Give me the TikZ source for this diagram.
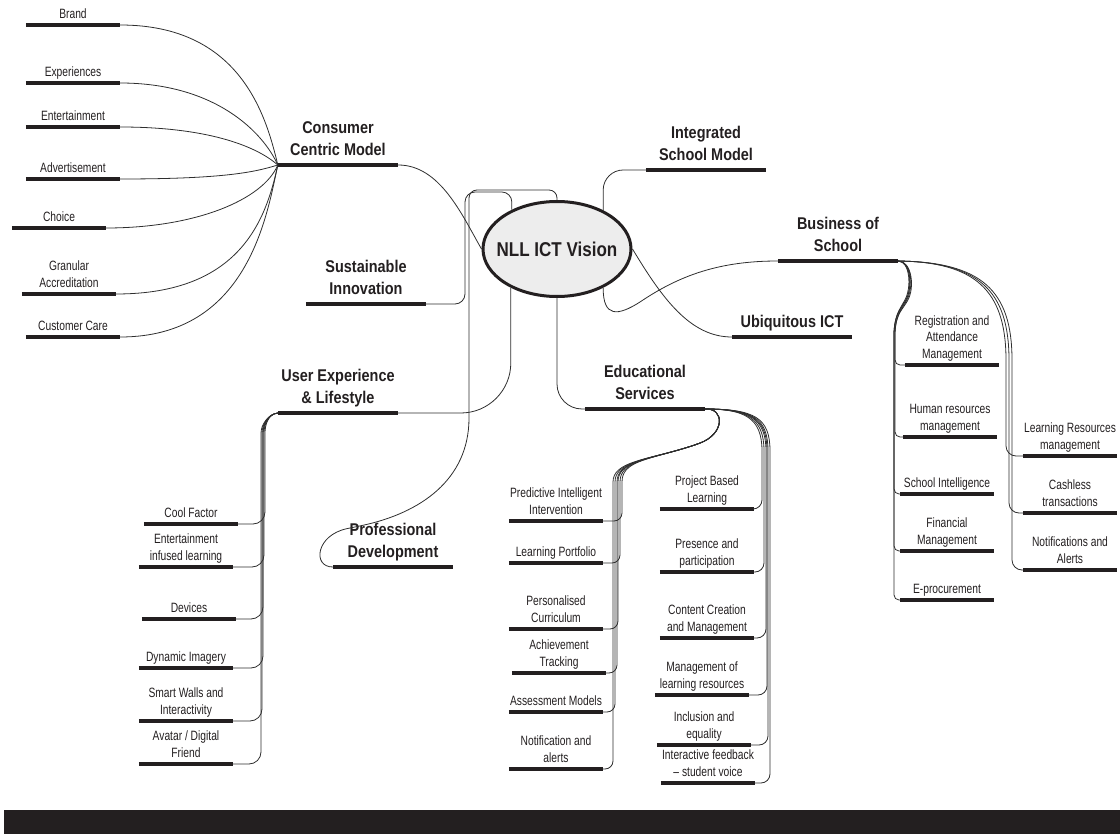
\documentclass[tikz,border=0pt]{standalone}
\usepackage{fontspec}
\setmainfont{Liberation Sans}
\newfontfamily\leaffont{Liberation Sans}[FakeStretch=0.76]
\newfontfamily\topicfont{Liberation Sans}[FakeStretch=0.85]
\usetikzlibrary{shapes.geometric}
\definecolor{ink}{HTML}{231F20}
\definecolor{wire}{HTML}{2E2E2E}
\tikzset{
  bar/.style={draw=ink, line width=3.6pt},
  link/.style={draw=wire, line width=0.8pt},
  underbar/.style={append after command={\pgfextra{\let\barnode\tikzlastnode}
      (\barnode.south west) edge[bar] (\barnode.south east)}},
  leaf/.style={underbar, anchor=south, align=center, text=ink, minimum width=94pt,
      inner xsep=0pt, inner ysep=6.5pt, text depth=0pt,
      font=\leaffont\fontsize{13.5}{16.5}\selectfont},
  topic/.style={underbar, anchor=south, align=center, text=ink, minimum width=120pt,
      inner xsep=0pt, inner ysep=9pt, text depth=0pt,
      font=\topicfont\bfseries\fontsize{17}{22}\selectfont},
}
\begin{document}
\begin{tikzpicture}[x=1pt,y=-1pt]
  \useasboundingbox (0,0) rectangle (1120,834);

  % centre
  \node[ellipse, draw=ink, line width=3pt, fill=black!7, minimum width=148pt,
    minimum height=95pt, inner xsep=-8pt, inner ysep=0pt, text=ink,
    font=\topicfont\bfseries\fontsize{20}{24}\selectfont] (vision) at (557,249) {NLL ICT Vision};

  % main topics
  \node[topic] (ccm) at (338,165) {Consumer\\Centric Model};
  \node[topic] (sust) at (366,304) {Sustainable\\Innovation};
  \node[topic] (isch) at (706,170) {Integrated\\School Model};
  \node[topic] (bos) at (838,261) {Business of\\School};
  \node[topic] (uict) at (792,337) {Ubiquitous ICT};
  \node[topic] (edu) at (645,409) {Educational\\Services};
  \node[topic] (uxl) at (338,413) {User Experience\\\& Lifestyle};
  \node[topic] (prof) at (393,567) {Professional\\Development};

  % consumer centric model
  \node[leaf] (brand) at (73,25) {Brand};
  \node[leaf] (exper) at (73,83) {Experiences};
  \node[leaf] (entert) at (73,127) {Entertainment};
  \node[leaf] (advert) at (73,179) {Advertisement};
  \node[leaf] (choice) at (59,228) {Choice};
  \node[leaf] (granul) at (69,294) {Granular\\Accreditation};
  \node[leaf] (care) at (73,337) {Customer Care};

  % user experience
  \node[leaf] (cool) at (191,524) {Cool Factor};
  \node[leaf] (infused) at (186,567) {Entertainment\\infused learning};
  \node[leaf] (devices) at (189,619) {Devices};
  \node[leaf] (imagery) at (186,668) {Dynamic Imagery};
  \node[leaf] (walls) at (186,721) {Smart Walls and\\Interactivity};
  \node[leaf] (avatar) at (186,764) {Avatar / Digital\\Friend};

  % educational services
  \node[leaf] (pred) at (556,521) {Predictive Intelligent\\Intervention};
  \node[leaf] (portf) at (556,563) {Learning Portfolio};
  \node[leaf] (persc) at (556,629) {Personalised\\Curriculum};
  \node[leaf] (achiev) at (559,673) {Achievement\\Tracking};
  \node[leaf] (assess) at (556,712) {Assessment Models};
  \node[leaf] (notif) at (556,769) {Notification and\\alerts};
  \node[leaf] (projb) at (707,509) {Project Based\\Learning};
  \node[leaf] (presen) at (707,572) {Presence and\\participation};
  \node[leaf] (content) at (707,638) {Content Creation\\and Management};
  \node[leaf] (lrmgmt) at (702,695) {Management of\\learning resources};
  \node[leaf] (inclus) at (704,745) {Inclusion and\\equality};
  \node[leaf] (feedb) at (708,783) {Interactive feedback\\– student voice};

  % business of school
  \node[leaf] (regist) at (952,365) {Registration and\\Attendance\\Management};
  \node[leaf] (humanr) at (950,437) {Human resources\\management};
  \node[leaf] (schint) at (947,494) {School Intelligence};
  \node[leaf] (financ) at (947,551) {Financial\\Management};
  \node[leaf] (eproc) at (947,600) {E-procurement};
  \node[leaf] (lresm) at (1070,456) {Learning Resources\\management};
  \node[leaf] (cashl) at (1070,513) {Cashless\\transactions};
  \node[leaf] (alerts) at (1070,570) {Notifications and\\Alerts};

  % links from the centre
  \draw[link] (ccm.south east) .. controls (440,165) and (462,215) .. (vision.west);
  \draw[link, rounded corners=10pt] (sust.south east) -| (465,192) -| (vision.139);
  \draw[link, rounded corners=8pt] (prof.south west) .. controls (312,567) and (316,535) .. (355,527)
    .. controls (420,513) and (469,480) .. (469,410) |- (557,190) -- (vision.north);
  \draw[link, rounded corners=50pt] (vision.220) |- (uxl.south east);
  \draw[link, rounded corners=25pt] (vision.south) |- (edu.south west);
  \draw[link, rounded corners=20pt] (vision.40) |- (isch.south west);
  \draw[link] (vision.320) .. controls (603,318) and (618,316) .. (640,302)
    .. controls (680,275) and (720,261) .. (bos.south west);
  \draw[link] (vision.east) .. controls (662,298) and (690,337) .. (uict.south west);

  % consumer centric links
  \draw[link] (brand.south east) .. controls (240,25) and (266,115) .. (ccm.south west);
  \draw[link] (exper.south east) .. controls (215,83) and (263,132) .. (ccm.south west);
  \draw[link] (entert.south east) .. controls (205,127) and (255,145) .. (ccm.south west);
  \draw[link] (advert.south east) .. controls (225,179) and (255,172) .. (ccm.south west);
  \draw[link] (choice.south east) .. controls (195,228) and (263,200) .. (ccm.south west);
  \draw[link] (granul.south east) .. controls (240,294) and (266,220) .. (ccm.south west);
  \draw[link] (care.south east) .. controls (248,337) and (267,215) .. (ccm.south west);

  % user experience links
  \draw[link, rounded corners=12pt] (uxl.south west) .. controls (268,414) and (265,425) .. (265,445) |- (cool.south east);
  \draw[link, rounded corners=12pt] (uxl.south west) .. controls (268,414) and (264,425) .. (264,445) |- (infused.south east);
  \draw[link, rounded corners=12pt] (uxl.south west) .. controls (268,414) and (263,425) .. (263,445) |- (devices.south east);
  \draw[link, rounded corners=12pt] (uxl.south west) .. controls (268,414) and (263,425) .. (263,445) |- (imagery.south east);
  \draw[link, rounded corners=12pt] (uxl.south west) .. controls (268,414) and (262,425) .. (262,445) |- (walls.south east);
  \draw[link, rounded corners=12pt] (uxl.south west) .. controls (268,414) and (261,425) .. (261,445) |- (avatar.south east);

  % educational services links
  \draw[link, rounded corners=8pt] (edu.south east) .. controls (725,408) and (725,434) .. (692,446)
    .. controls (645,460) and (622,462) .. (622,490) |- (pred.south east);
  \draw[link, rounded corners=8pt] (edu.south east) .. controls (725,408) and (725,434) .. (692,446)
    .. controls (645,460) and (620,462) .. (620,490) |- (portf.south east);
  \draw[link, rounded corners=8pt] (edu.south east) .. controls (725,408) and (725,434) .. (692,446)
    .. controls (645,460) and (618,462) .. (618,490) |- (persc.south east);
  \draw[link, rounded corners=8pt] (edu.south east) .. controls (725,408) and (725,434) .. (692,446)
    .. controls (645,460) and (617,462) .. (617,490) |- (achiev.south east);
  \draw[link, rounded corners=8pt] (edu.south east) .. controls (725,408) and (725,434) .. (692,446)
    .. controls (645,460) and (615,462) .. (615,490) |- (assess.south east);
  \draw[link, rounded corners=8pt] (edu.south east) .. controls (725,408) and (725,434) .. (692,446)
    .. controls (645,460) and (613,462) .. (613,490) |- (notif.south east);
  \draw[link, rounded corners=9pt] (edu.south east) .. controls (745,409) and (762,418) .. (762,460) |- (projb.south east);
  \draw[link, rounded corners=9pt] (edu.south east) .. controls (747,409) and (764,418) .. (764,460) |- (presen.south east);
  \draw[link, rounded corners=9pt] (edu.south east) .. controls (749,409) and (766,418) .. (766,460) |- (content.south east);
  \draw[link, rounded corners=9pt] (edu.south east) .. controls (751,409) and (767,418) .. (767,460) |- (lrmgmt.south east);
  \draw[link, rounded corners=9pt] (edu.south east) .. controls (753,409) and (768,418) .. (768,460) |- (inclus.south east);
  \draw[link, rounded corners=9pt] (edu.south east) .. controls (755,409) and (770,418) .. (770,460) |- (feedb.south east);

  % business of school links
  \draw[link, rounded corners=5pt] (bos.south east) .. controls (912,261) and (915,288) .. (905,305)
    .. controls (897,316) and (895,325) .. (895,340) |- (regist.south west);
  \draw[link, rounded corners=5pt] (bos.south east) .. controls (912,261) and (914,288) .. (904,305)
    .. controls (897,316) and (895,325) .. (895,340) |- (humanr.south west);
  \draw[link, rounded corners=5pt] (bos.south east) .. controls (911,261) and (913,288) .. (903,305)
    .. controls (896,316) and (894,325) .. (894,340) |- (schint.south west);
  \draw[link, rounded corners=5pt] (bos.south east) .. controls (911,261) and (913,288) .. (903,305)
    .. controls (896,316) and (894,325) .. (894,340) |- (financ.south west);
  \draw[link, rounded corners=5pt] (bos.south east) .. controls (910,261) and (912,288) .. (902,305)
    .. controls (896,316) and (894,325) .. (894,340) |- (eproc.south west);
  \draw[link, rounded corners=10pt] (bos.south east) .. controls (975,262) and (1006,290) .. (1006,370) |- (lresm.south west);
  \draw[link, rounded corners=10pt] (bos.south east) .. controls (978,262) and (1009,290) .. (1009,370) |- (cashl.south west);
  \draw[link, rounded corners=10pt] (bos.south east) .. controls (981,262) and (1012,290) .. (1012,370) |- (alerts.south west);

  % footer
  \fill[ink] (4,810) rectangle (1120,834);
\end{tikzpicture}
\end{document}
